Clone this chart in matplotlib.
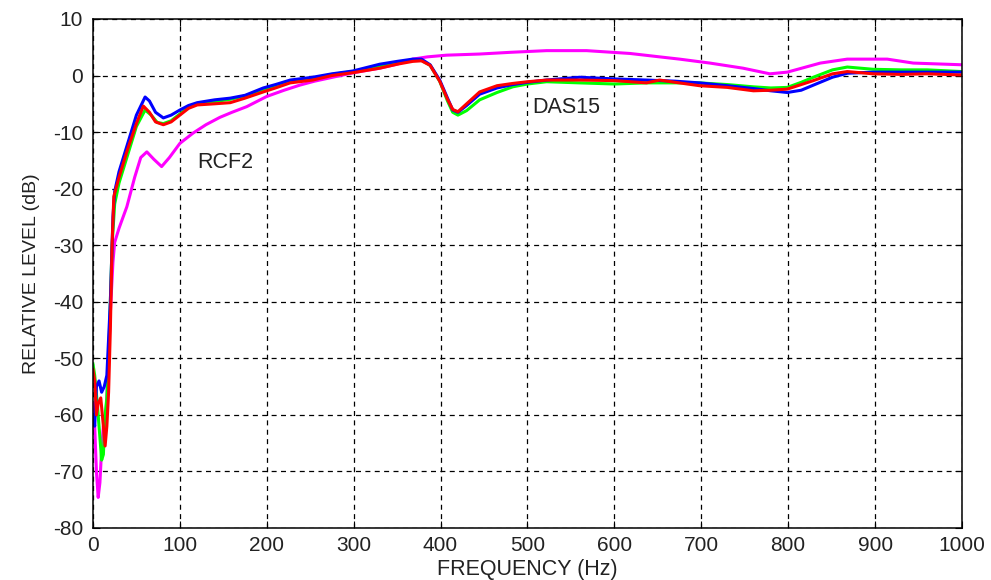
import matplotlib
matplotlib.use('Agg')
import matplotlib.pyplot as plt

# frequency (Hz) / relative level (dB)
blue_f = [0, 2, 4, 7, 10, 13, 16, 20, 23, 25, 30, 40, 50, 60, 65, 72, 81, 90, 100, 110,
          120, 140, 158, 175, 196, 210, 227, 253, 275, 299, 330, 350, 368, 378, 388, 399,
          408, 414, 420, 430, 445, 465, 483, 500, 522, 560, 600, 637, 670, 698, 730, 760,
          780, 799, 815, 829, 851, 868, 898, 930, 960, 1000]
blue_db = [-60, -62, -55, -54, -56, -55, -53, -40, -25, -20.5, -17, -12, -7, -3.8, -4.5, -6.5,
           -7.5, -7, -6.1, -5.3, -4.8, -4.3, -4.0, -3.5, -2.2, -1.6, -0.8, -0.3, 0.3, 0.8, 2.0,
           2.5, 2.9, 2.9, 1.9, -0.8, -4, -6.1, -6.5, -5.3, -3.3, -2.2, -1.6, -1.2, -0.8, -0.3,
           -0.6, -0.8, -1.0, -1.3, -1.8, -2.3, -2.7, -3.0, -2.6, -1.7, -0.3, 0.4, 0.6, 0.6, 0.6, 0.6]

red_f = [0, 2, 4, 6, 9, 12, 14, 16, 18, 20, 22, 24, 30, 40, 50, 58, 65, 72, 81, 90, 100,
         110, 120, 140, 158, 175, 196, 210, 227, 253, 275, 299, 330, 350, 368, 378, 388,
         399, 408, 414, 420, 430, 445, 465, 483, 500, 522, 560, 600, 637, 652, 670, 698,
         730, 760, 780, 799, 815, 829, 851, 868, 898, 930, 960, 1000]
red_db = [-52, -54, -60, -58, -57, -62, -65.5, -62, -56, -45, -30, -21.4, -18, -13, -8.5, -5.4,
          -6.5, -8.2, -8.7, -8.2, -7.0, -5.8, -5.2, -5.0, -4.8, -4.0, -2.9, -2.2, -1.3, -0.8, 0,
          0.5, 1.3, 2.0, 2.5, 2.6, 1.8, -1.0, -4.2, -6.0, -6.4, -5.0, -2.9, -1.8, -1.4, -1.1,
          -0.8, -0.8, -0.9, -1.3, -0.8, -1.2, -1.8, -2.1, -2.7, -2.6, -2.4, -1.6, -0.9, 0.3,
          0.7, 0.3, 0.2, 0.3, 0.1]

green_f = [0, 2, 5, 8, 10, 12, 14, 16, 18, 20, 22, 25, 30, 40, 50, 60, 67, 74, 81, 90, 100,
           110, 120, 140, 158, 175, 196, 210, 227, 253, 275, 299, 330, 350, 368, 378, 388,
           399, 408, 414, 420, 430, 445, 465, 483, 500, 522, 560, 600, 637, 652, 698, 730,
           760, 780, 799, 815, 829, 851, 868, 898, 930, 960, 1000]
green_db = [-51, -53, -58, -64, -68, -67, -60, -57, -50, -40, -30, -22.7, -19, -14, -9, -6.1,
            -7, -8.3, -8.5, -8.0, -6.8, -5.6, -5.0, -4.6, -4.2, -3.6, -2.5, -1.8, -1.0, -0.5,
            0.2, 0.7, 1.7, 2.3, 2.7, 2.7, 1.8, -1.0, -4.5, -6.5, -7.0, -6.2, -4.3, -3.0, -2.0,
            -1.5, -1.1, -1.3, -1.5, -1.3, -1.3, -1.3, -1.6, -2.0, -2.2, -2.1, -1.2, -0.3, 1.0,
            1.5, 1.1, 1.0, 1.0, 0.7]

mag_f = [0, 2, 4, 6, 8, 10, 12, 15, 18, 20, 23, 25, 30, 39, 48, 55, 62, 70, 79, 88, 100,
         115, 130, 146, 160, 177, 200, 220, 238, 255, 276, 300, 330, 350, 368, 385, 407,
         445, 480, 522, 568, 618, 652, 675, 710, 748, 779, 799, 837, 868, 914, 944, 1000]
mag_db = [-58, -62, -70, -74.6, -72, -66, -62, -60, -50, -42, -33, -29.5, -27, -23.2, -18,
          -14.5, -13.5, -14.8, -16.1, -14.5, -12.0, -10.2, -8.7, -7.4, -6.5, -5.5, -3.7, -2.6,
          -1.7, -1.0, -0.3, 0.5, 1.3, 2.0, 2.9, 3.3, 3.6, 3.8, 4.1, 4.4, 4.4, 3.9, 3.3, 2.9,
          2.2, 1.3, 0.3, 0.6, 2.2, 2.9, 2.9, 2.2, 1.9]

xticks = list(range(0, 1001, 100))
yticks = list(range(-80, 11, 10))

plt.rcParams['font.family'] = ['Liberation Sans', 'DejaVu Sans']
plt.rcParams['axes.unicode_minus'] = False

fig = plt.figure(figsize=(9.91, 5.8), dpi=100)
ax = fig.add_axes([0.0938, 0.0897, 0.8769, 0.8776])

ax.plot(mag_f, mag_db, color='#ff00ff', lw=2.2)
ax.plot(green_f, green_db, color='#00ff00', lw=2.2)
ax.plot(blue_f, blue_db, color='#0000ff', lw=2.2)
ax.plot(red_f, red_db, color='#ff0000', lw=2.2)

ax.set_xlim(0, 1000)
ax.set_ylim(-80, 10)
ax.set_xticks(xticks)
ax.set_yticks(yticks)
ax.grid(True, color='black', linestyle=(0, (4, 3.5)), lw=0.9)
ax.tick_params(direction='in', top=True, right=True, length=5, labelsize=15,
               labelcolor='#222222')
ax.tick_params(axis='x', pad=6)
ax.tick_params(axis='y', pad=7)
for s in ax.spines.values():
    s.set_linewidth(1.1)

ax.set_xlabel('FREQUENCY (Hz)', fontsize=15.5, color='#222222', labelpad=3)
ax.set_ylabel('RELATIVE LEVEL (dB)', fontsize=14, color='#222222', labelpad=9)

ax.text(120, -15.3, 'RCF2', fontsize=15.5, color='#222222', va='center')
ax.text(505, -5.7, 'DAS15', fontsize=15.5, color='#222222', va='center')

fig.savefig('out.png', dpi=100)
